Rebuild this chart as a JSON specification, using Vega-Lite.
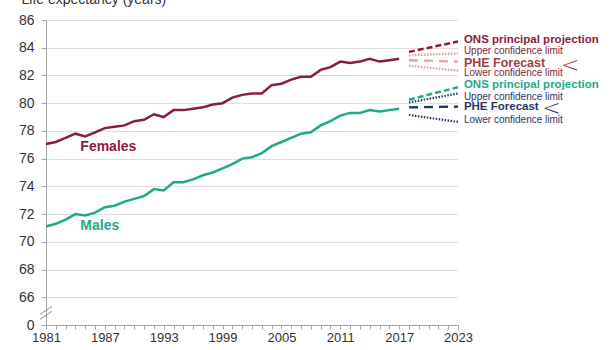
{
  "$schema": "https://vega.github.io/schema/vega-lite/v6.json",
  "width": 412,
  "height": 305,
  "autosize": "none",
  "padding": {"left": 46, "top": 20, "right": 153, "bottom": 25},
  "config": {
    "font": "Liberation Sans",
    "view": {"stroke": null}
  },
  "datasets": {
    "hist": [
      {"year":1981,"sex":"Females","value":77.05},{"year":1982,"sex":"Females","value":77.2},{"year":1983,"sex":"Females","value":77.5},{"year":1984,"sex":"Females","value":77.8},{"year":1985,"sex":"Females","value":77.6},{"year":1986,"sex":"Females","value":77.9},{"year":1987,"sex":"Females","value":78.2},{"year":1988,"sex":"Females","value":78.3},{"year":1989,"sex":"Females","value":78.4},{"year":1990,"sex":"Females","value":78.7},{"year":1991,"sex":"Females","value":78.8},{"year":1992,"sex":"Females","value":79.2},{"year":1993,"sex":"Females","value":79.0},{"year":1994,"sex":"Females","value":79.5},{"year":1995,"sex":"Females","value":79.5},{"year":1996,"sex":"Females","value":79.6},{"year":1997,"sex":"Females","value":79.7},{"year":1998,"sex":"Females","value":79.9},{"year":1999,"sex":"Females","value":80.0},{"year":2000,"sex":"Females","value":80.4},{"year":2001,"sex":"Females","value":80.6},{"year":2002,"sex":"Females","value":80.7},{"year":2003,"sex":"Females","value":80.7},{"year":2004,"sex":"Females","value":81.3},{"year":2005,"sex":"Females","value":81.4},{"year":2006,"sex":"Females","value":81.7},{"year":2007,"sex":"Females","value":81.9},{"year":2008,"sex":"Females","value":81.9},{"year":2009,"sex":"Females","value":82.4},{"year":2010,"sex":"Females","value":82.6},{"year":2011,"sex":"Females","value":83.0},{"year":2012,"sex":"Females","value":82.9},{"year":2013,"sex":"Females","value":83.0},{"year":2014,"sex":"Females","value":83.2},{"year":2015,"sex":"Females","value":83.0},{"year":2016,"sex":"Females","value":83.1},{"year":2017,"sex":"Females","value":83.2},
      {"year":1981,"sex":"Males","value":71.1},{"year":1982,"sex":"Males","value":71.3},{"year":1983,"sex":"Males","value":71.6},{"year":1984,"sex":"Males","value":72.0},{"year":1985,"sex":"Males","value":71.9},{"year":1986,"sex":"Males","value":72.1},{"year":1987,"sex":"Males","value":72.5},{"year":1988,"sex":"Males","value":72.6},{"year":1989,"sex":"Males","value":72.9},{"year":1990,"sex":"Males","value":73.1},{"year":1991,"sex":"Males","value":73.3},{"year":1992,"sex":"Males","value":73.8},{"year":1993,"sex":"Males","value":73.7},{"year":1994,"sex":"Males","value":74.3},{"year":1995,"sex":"Males","value":74.3},{"year":1996,"sex":"Males","value":74.5},{"year":1997,"sex":"Males","value":74.8},{"year":1998,"sex":"Males","value":75.0},{"year":1999,"sex":"Males","value":75.3},{"year":2000,"sex":"Males","value":75.6},{"year":2001,"sex":"Males","value":76.0},{"year":2002,"sex":"Males","value":76.1},{"year":2003,"sex":"Males","value":76.4},{"year":2004,"sex":"Males","value":76.9},{"year":2005,"sex":"Males","value":77.2},{"year":2006,"sex":"Males","value":77.5},{"year":2007,"sex":"Males","value":77.8},{"year":2008,"sex":"Males","value":77.9},{"year":2009,"sex":"Males","value":78.4},{"year":2010,"sex":"Males","value":78.7},{"year":2011,"sex":"Males","value":79.1},{"year":2012,"sex":"Males","value":79.3},{"year":2013,"sex":"Males","value":79.3},{"year":2014,"sex":"Males","value":79.5},{"year":2015,"sex":"Males","value":79.4},{"year":2016,"sex":"Males","value":79.5},{"year":2017,"sex":"Males","value":79.6}
    ],
    "proj": [
      {"year":2018,"series":"F_ONS","kind":"ONS","value":83.7},{"year":2023,"series":"F_ONS","kind":"ONS","value":84.45},
      {"year":2018,"series":"F_U","kind":"CL","value":83.45},{"year":2023,"series":"F_U","kind":"CL","value":83.6},
      {"year":2018,"series":"F_PHE","kind":"PHE","value":83.1},{"year":2023,"series":"F_PHE","kind":"PHE","value":83.0},
      {"year":2018,"series":"F_L","kind":"CL","value":82.7},{"year":2023,"series":"F_L","kind":"CL","value":82.35},
      {"year":2018,"series":"M_ONS","kind":"ONS","value":80.25},{"year":2023,"series":"M_ONS","kind":"ONS","value":81.15},
      {"year":2018,"series":"M_U","kind":"CL","value":80.05},{"year":2023,"series":"M_U","kind":"CL","value":80.7},
      {"year":2018,"series":"M_PHE","kind":"PHE","value":79.7},{"year":2023,"series":"M_PHE","kind":"PHE","value":79.75},
      {"year":2018,"series":"M_L","kind":"CL","value":79.15},{"year":2023,"series":"M_L","kind":"CL","value":78.65}
    ],
    "notes": [
      {"text":"ONS principal projection","group":"F_ONS","weight":"bold","year":2023.6,"value":84.56},
      {"text":"Upper confidence limit","group":"F_CL","weight":"normal","year":2023.6,"value":83.78},
      {"text":"PHE Forecast","group":"F_PHE","weight":"boldwide","year":2023.6,"value":82.87},
      {"text":"Lower confidence limit","group":"F_CL","weight":"normal","year":2023.6,"value":82.15},
      {"text":"ONS principal projection","group":"M_ONS","weight":"bold","year":2023.6,"value":81.31},
      {"text":"Upper confidence limit","group":"M_CL","weight":"normal","year":2023.6,"value":80.46},
      {"text":"PHE Forecast","group":"M_PHE","weight":"bold","year":2023.6,"value":79.7},
      {"text":"Lower confidence limit","group":"M_CL","weight":"normal","year":2023.6,"value":78.78},
      {"text":"<","group":"F_PHE","weight":"bracket","year":2033.5,"value":82.75},
      {"text":"<","group":"M_PHE","weight":"bracket","year":2031.6,"value":79.65}
    ],
    "breaks": [
      {"year":1980.39,"year2":1981.61,"value":64.77,"value2":65.35},
      {"year":1980.39,"year2":1981.61,"value":64.41,"value2":64.99}
    ],
    "sexlabels": [
      {"text":"Females","sex":"Females","year":1984.5,"value":76.83},
      {"text":"Males","sex":"Males","year":1984.5,"value":71.15}
    ]
  },
  "encoding": {
    "x": {"field":"year","type":"quantitative",
      "scale":{"domain":[1981,2023],"nice":false,"zero":false},
      "axis":{"title":null,"values":[1981,1982,1983,1984,1985,1986,1987,1988,1989,1990,1991,1992,1993,1994,1995,1996,1997,1998,1999,2000,2001,2002,2003,2004,2005,2006,2007,2008,2009,2010,2011,2012,2013,2014,2015,2016,2017,2018,2019,2020,2021,2022,2023],
        "labelExpr":"(datum.value-1981)%6==0 ? format(datum.value,'d') : ''",
        "labelOverlap":false,"labelFlush":false,"labelFontSize":13,"labelPadding":2,"labelColor":"#333333",
        "tickSize":4,"tickColor":"#a6a6a6","domainColor":"#a6a6a6","grid":false}},
    "y": {"field":"value","type":"quantitative",
      "scale":{"domain":[64,86],"nice":false,"zero":false},
      "axis":{"values":[64,66,68,70,72,74,76,78,80,82,84,86],
        "labelExpr":"datum.value==64 ? '0' : datum.label",
        "labelOverlap":false,"labelFontSize":14,"labelPadding":7,"labelColor":"#333333",
        "tickSize":5,"tickColor":"#a6a6a6","domainColor":"#a6a6a6",
        "grid":true,"gridColor":"#dedede","gridWidth":1,
        "title":"Life expectancy (years)","titleAngle":0,"titleAlign":"left","titleBaseline":"alphabetic","titleX":-25,"titleY":-17,"titleFontSize":14,"titleFontWeight":"normal","titleColor":"#333333"}}
  },
  "layer": [
    {
      "data": {"name":"hist"},
      "mark": {"type":"line","strokeWidth":2.5},
      "encoding": {
        "color": {"field":"sex","type":"nominal","scale":{"domain":["Females","Males"],"range":["#8c1c3f","#1fa98b"]},"legend":null}
      }
    },
    {
      "data": {"name":"proj"},
      "mark": {"type":"line"},
      "encoding": {
        "detail": {"field":"series"},
        "color": {"field":"series","type":"nominal","scale":{"domain":["F_ONS","F_U","F_PHE","F_L","M_ONS","M_U","M_PHE","M_L"],"range":["#8c1c3f","#d49aa2","#e0a3a3","#d49aa2","#1fa98b","#1f3864","#1f3864","#1f3864"]},"legend":null},
        "strokeDash": {"field":"kind","type":"nominal","scale":{"domain":["ONS","PHE","CL"],"range":[[6,3],[9,6],[1.5,1.5]]},"legend":null},
        "strokeWidth": {"field":"kind","type":"nominal","scale":{"domain":["ONS","PHE","CL"],"range":[2.5,2.2,1.2]},"legend":null}
      }
    },
    {
      "data": {"name":"breaks"},
      "mark": {"type":"rule","color":"#8c8c8c","strokeWidth":1},
      "encoding": {
        "x2":{"field":"year2"},
        "y2":{"field":"value2"}
      }
    },
    {
      "data": {"name":"sexlabels"},
      "mark": {"type":"text","align":"left","baseline":"middle","fontSize":14,"fontWeight":"bold"},
      "encoding": {
        "text":{"field":"text"},
        "color": {"field":"sex","type":"nominal","scale":{"domain":["Females","Males"],"range":["#8c1c3f","#1fa98b"]},"legend":null}
      }
    },
    {
      "data": {"name":"notes"},
      "transform": [{"filter":"datum.weight=='bold'"}],
      "mark": {"type":"text","align":"left","baseline":"middle","fontSize":11.5,"fontWeight":"bold"},
      "encoding": {
        "text":{"field":"text"},
        "color": {"field":"group","type":"nominal","scale":{"domain":["F_ONS","F_CL","F_PHE","M_ONS","M_CL","M_PHE"],"range":["#8c1c3f","#7d1f38","#a0403f","#1fa98b","#1f3864","#1f3864"]},"legend":null}
      }
    },
    {
      "data": {"name":"notes"},
      "transform": [{"filter":"datum.weight=='boldwide'"}],
      "mark": {"type":"text","align":"left","baseline":"middle","fontSize":12.5,"fontWeight":"bold"},
      "encoding": {
        "text":{"field":"text"},
        "color": {"field":"group","type":"nominal","scale":{"domain":["F_ONS","F_CL","F_PHE","M_ONS","M_CL","M_PHE"],"range":["#8c1c3f","#7d1f38","#a0403f","#1fa98b","#1f3864","#1f3864"]},"legend":null}
      }
    },
    {
      "data": {"name":"notes"},
      "transform": [{"filter":"datum.weight=='normal'"}],
      "mark": {"type":"text","align":"left","baseline":"middle","fontSize":10},
      "encoding": {
        "text":{"field":"text"},
        "color": {"field":"group","type":"nominal","scale":{"domain":["F_ONS","F_CL","F_PHE","M_ONS","M_CL","M_PHE"],"range":["#8c1c3f","#7d1f38","#a0403f","#1fa98b","#1f3864","#1f3864"]},"legend":null}
      }
    },
    {
      "data": {"name":"notes"},
      "transform": [{"filter":"datum.weight=='bracket'"}],
      "mark": {"type":"text","align":"left","baseline":"middle","fontSize":22,"font":"DejaVu Sans","fontWeight":200},
      "encoding": {
        "text":{"field":"text"},
        "color": {"field":"group","type":"nominal","scale":{"domain":["F_ONS","F_CL","F_PHE","M_ONS","M_CL","M_PHE"],"range":["#8c1c3f","#7d1f38","#a0403f","#1fa98b","#1f3864","#1f3864"]},"legend":null}
      }
    }
  ],
  "resolve": {"scale": {"color":"independent"}}
}
